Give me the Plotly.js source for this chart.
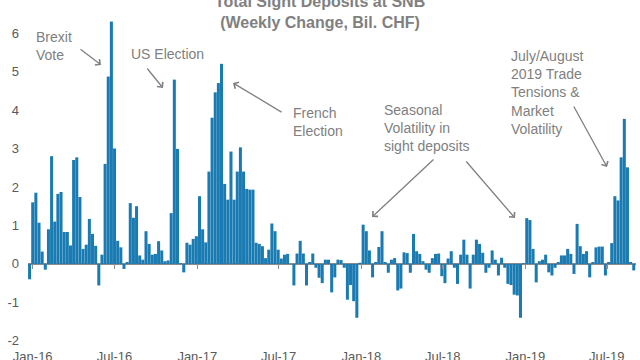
<!DOCTYPE html>
<html>
<head>
<meta charset="utf-8">
<script src="https://cdn.plot.ly/plotly-3.0.1.min.js"></script>
<style>html,body{margin:0;padding:0;background:#fff;}#chart{width:640px;height:360px;}</style>
</head>
<body>
<div id="chart"></div>
<script>
// Weekly change in total sight deposits at SNB (bil. CHF), one value per week (Fridays)
const firstWeek = '2015-12-25';
const weeklyChange = [
  -0.4,
  1.6, 1.85, 1.07, 0.32, -0.15, 0.9, 2.8, 1.1, 1.82, 1.87,
  0.83, 0.83, 0.48, 2.7, 2.77, 1.74, 0.39, 0.5, 1.17, 0.78,
  0.47, -0.56, 0.24, 2.6, 4.87, 6.3, 3.0, 0.6, 0.43, -0.13,
  0.05, 1.58, 1.2, 1.5, 0.22, 0.11, 0.85, 0.52, 0.24, 0.26,
  0.59, 0.35, 0.07, 0.09, 1.32, 4.79, 2.99, 0.02, -0.22, 0.55,
  0.5, 0.65, 0.72, 1.76, 0.9, 0.56, 2.4, 3.8, 4.46, 4.7,
  5.2, 2.08, 1.67, 2.92, 1.67, 2.4, 3.03, 2.4, 1.95, 1.93,
  1.93, 0.55, 0.52, 0.46, 0.15, 0.37, 1.05, 0.85, 0.37, 0.14,
  0.24, 0.26, 0.0, -0.56, 0.27, 0.6, 0.27, -0.56, 0.05, 0.27,
  -0.1, -0.36, -0.5, 0.11, 0.11, -0.74, -0.35, 0.11, 0.1, -0.1,
  -0.93, -0.55, -0.97, -1.4, 0.03, 1.02, 0.85, 0.35, -0.35, 0.05,
  0.44, 0.85, 0.05, -0.23, 0.11, 0.15, -0.69, -0.64, 0.3, 0.28,
  -0.23, 0.78, 0.33, 0.26, 0.07, -0.15, -0.23, 0.15, 0.26, 0.27,
  -0.32, -0.5, 0.14, 0.33, -0.1, -0.52, 0.24, 0.63, 0.24, -0.64,
  0.24, 0.63, 0.52, 0.29, -0.23, -0.1, 0.35, 0.11, -0.3, 0.16,
  -0.1, -0.52, -0.55, -0.8, -0.82, -1.4, 0.02, 1.19, 1.14, 0.39,
  -0.48, 0.07, 0.11, 0.24, -0.22, -0.3, -0.1, 0.05, 0.22, 0.22,
  0.39, 0.26, -0.26, 1.04, 0.46, 0.26, 0.33, -0.35, 0.05, 0.43,
  0.45, 0.45, -0.3, 0.05, 0.54, 1.76, 1.65, 2.77, 3.77, 2.51,
  0.05, -0.17
];
const yTicks = [-2, -1, 0, 1, 2, 3, 4, 5, 6];
const xTickFormat = '%b-%y';

// weekly category dates
const weeks = [];
const start = new Date(firstWeek + 'T00:00:00Z');
for (let i = 0; i < weeklyChange.length; i++) {
  const d = new Date(start.getTime() + i * 7 * 86400000);
  weeks.push(d.toISOString().slice(0, 10));
}

const W = 640, H = 360;
const M = {l: 28, r: 4, t: 10, b: 13};
const yRange = [-2.16, 6.6];
const xRange = ['2015-12-21 12:00', '2019-09-04'];
const pw = W - M.l - M.r, ph = H - M.t - M.b;
const px = x => (x - M.l) / pw;
const py = y => (H - M.b - y) / ph;

const grey = '#808080';
const annFont = {family: 'Liberation Sans, Arial, sans-serif', size: 14, color: grey};

function label(text, x, y) {
  return {text: text, xref: 'paper', yref: 'paper', x: px(x), y: py(y),
    xanchor: 'left', yanchor: 'top', align: 'left', showarrow: false, font: annFont};
}
function arrow(x0, y0, x1, y1) {
  return {text: '', xref: 'paper', yref: 'paper', x: px(x1), y: py(y1),
    ax: x0 - x1, ay: y0 - y1, showarrow: true, arrowhead: 4, arrowsize: 1.1,
    arrowwidth: 1.3, arrowcolor: grey, standoff: 0, startstandoff: 0};
}

const annotations = [
  label('Brexit<br>Vote', 34, 27),
  arrow(79, 48, 101, 65),
  label('US Election', 129, 44),
  arrow(146, 67, 163, 88),
  label('French<br>Election', 291, 103),
  arrow(283, 113, 233, 83),
  label('Seasonal<br>Volatility in<br>sight deposits', 382, 100),
  arrow(435, 158, 372, 217),
  arrow(465, 160, 515, 218),
  label('July/August<br>2019 Trade<br>Tensions &amp;<br>Market<br>Volatility', 509, 46),
  arrow(573, 105, 607, 167)
];

const data = [
  {type: 'bar', x: weeks, y: weeklyChange, marker: {color: '#1a7ab2', line: {width: 0}},
   hoverinfo: 'x+y', showlegend: false},
  {type: 'scatter', x: [], y: [], xaxis: 'x2', yaxis: 'y', showlegend: false, hoverinfo: 'skip'}
];

const layout = {
  width: W, height: H,
  margin: M,
  paper_bgcolor: '#ffffff', plot_bgcolor: '#ffffff',
  bargap: 0.04,
  font: {family: 'Liberation Sans, Arial, sans-serif', color: '#595959', size: 13},
  title: {
    text: '<b>Total Sight Deposits at SNB<br>(Weekly Change, Bil. CHF)</b>',
    x: 0.5, xanchor: 'center', xref: 'container',
    y: 1 - 7 / H, yref: 'container', yanchor: 'bottom',
    font: {family: 'Liberation Sans, Arial, sans-serif', size: 16, color: grey}
  },
  xaxis: {
    type: 'date', range: xRange, tickformat: xTickFormat, dtick: 'M6', tick0: '2016-01-01',
    showgrid: false, zeroline: false, showline: false, ticks: '',
    tickfont: {size: 13, color: '#595959'}
  },
  xaxis2: {
    type: 'date', range: xRange, overlaying: 'x', anchor: 'free',
    position: (0 - yRange[0]) / (yRange[1] - yRange[0]), side: 'bottom',
    dtick: 'M6', tick0: '2016-01-01', ticks: 'outside', ticklen: 4, tickwidth: 1.5,
    tickcolor: '#8c8c8c', showticklabels: false, showgrid: false, showline: false, zeroline: false
  },
  yaxis: {
    range: yRange, tickvals: yTicks, ticktext: yTicks.map(String),
    showgrid: false, showline: false, ticks: '',
    zeroline: true, zerolinecolor: '#8c8c8c', zerolinewidth: 2,
    ticklabelstandoff: 8,
    tickfont: {size: 13, color: '#595959'}
  },
  annotations: annotations
};

Plotly.newPlot('chart', data, layout, {displayModeBar: false, staticPlot: true});
</script>
</body>
</html>
